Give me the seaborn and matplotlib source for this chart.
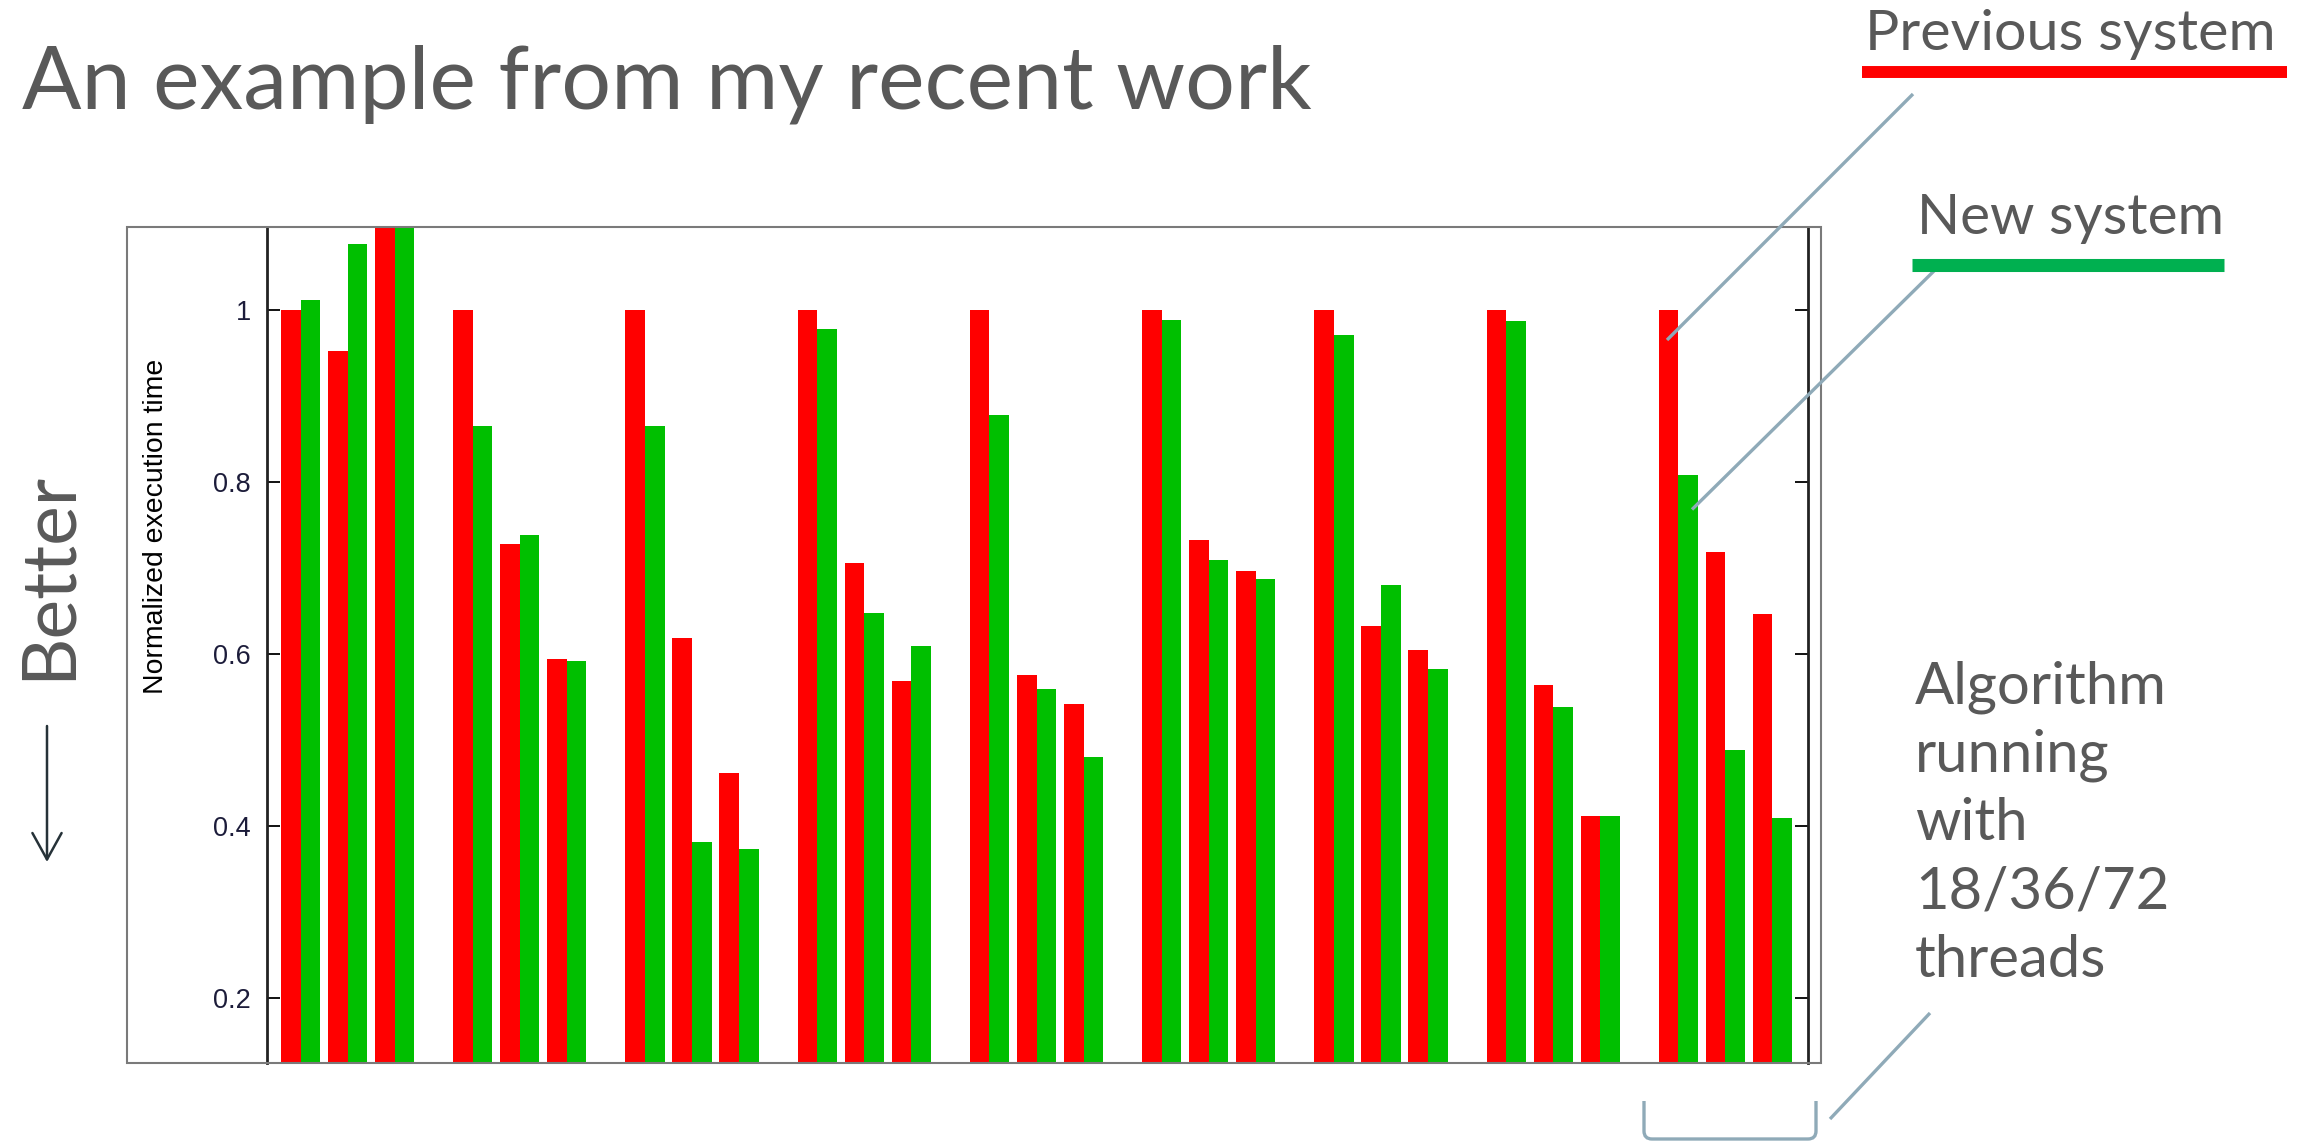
import matplotlib
matplotlib.use("Agg")
import matplotlib.pyplot as plt
from matplotlib.path import Path
from matplotlib.patches import PathPatch, Rectangle, FancyArrowPatch
import pandas as pd
import seaborn as sns

# normalized execution time, 9 benchmarks x 18/36/72 threads
threads = ["18", "36", "72"]
benchmarks = ["b1", "b2", "b3", "b4", "b5", "b6", "b7", "b8", "b9"]
prev_system = [
    [1.000, 0.952, 1.150],  # 72 threads runs off the top of the plot
    [1.000, 0.728, 0.594],
    [1.000, 0.619, 0.462],
    [1.000, 0.706, 0.569],
    [1.000, 0.576, 0.542],
    [1.000, 0.733, 0.697],
    [1.000, 0.632, 0.605],
    [1.000, 0.564, 0.412],
    [1.000, 0.718, 0.646],
]
new_system = [
    [1.011, 1.076, 1.170],
    [0.865, 0.738, 0.592],
    [0.865, 0.382, 0.373],
    [0.978, 0.648, 0.609],
    [0.878, 0.559, 0.480],
    [0.988, 0.709, 0.687],
    [0.970, 0.680, 0.583],
    [0.987, 0.539, 0.412],
    [0.808, 0.489, 0.409],
]
yticks = [0.2, 0.4, 0.6, 0.8, 1.0]
ytick_labels = ["0.2", "0.4", "0.6", "0.8", "1"]
algo_lines = ["Algorithm", "running", "with", "18/36/72", "threads"]

W, H = 2308, 1141
GROUP_PITCH = 3.664   # spacing of benchmark groups, in thread-slot units
GREY = "#595959"
CALLOUT = "#8faab8"

rows = []
for i, b in enumerate(benchmarks):
    for j, t in enumerate(threads):
        pos = i * GROUP_PITCH + j
        rows.append({"pos": pos, "system": "Previous system", "value": prev_system[i][j]})
        rows.append({"pos": pos, "system": "New system", "value": new_system[i][j]})
df = pd.DataFrame(rows)

sns.set_style("ticks")
plt.rcParams["font.family"] = ["Lato", "DejaVu Sans"]

fig = plt.figure(figsize=(W / 100, H / 100), dpi=100)
ax = fig.add_axes([266.8 / W, 1 - 1063 / H, (1807.8 - 266.8) / W, (1063 - 227) / H])

sns.barplot(data=df, x="pos", y="value", hue="system",
            hue_order=["Previous system", "New system"],
            palette={"Previous system": "#ff0000", "New system": "#00bf00"},
            native_scale=True, width=0.834, saturation=1, errorbar=None,
            linewidth=0, legend=False, ax=ax)

ax.set_xlim(-0.719, 8 * GROUP_PITCH + 2 + 0.753)
ax.set_ylim(0.125, 1.096)
ax.set_xticks([])
ax.set_xlabel("")
ax.set_ylabel("")
ax.set_yticks(yticks, ytick_labels)
ax.tick_params(axis="y", direction="in", length=9.5, width=1.4, pad=11.5,
               labelsize=19.5, labelcolor="#1c1c3a", color="#111111", right=True)
for lab in ax.get_yticklabels():
    lab.set_family("Liberation Sans")
ax.spines["top"].set_visible(False)
ax.spines["bottom"].set_visible(False)
for side in ["left", "right"]:
    ax.spines[side].set_linewidth(2)
    ax.spines[side].set_color("#222222")

# overlay in pixel coordinates for the slide annotations
ov = fig.add_axes([0, 0, 1, 1])
ov.set_xlim(0, W)
ov.set_ylim(H, 0)
ov.axis("off")
ov.set_zorder(5)
renderer = fig.canvas.get_renderer()


def fit(t, size_px, vertical=False):
    bb = t.get_window_extent(renderer)
    cur = bb.height if vertical else bb.width
    t.set_fontsize(t.get_fontsize() * size_px / cur)


ov.add_patch(Rectangle((127, 227), 1821 - 127, 1063 - 227, fill=False,
                       ec="#7a7a7a", lw=1.5))

title = ov.text(22, 108, "An example from my recent work", fontsize=60,
                color=GREY, ha="left", va="baseline")
fit(title, 1291)

ylab = ov.text(163, 526, "Normalized execution time", rotation=90,
               rotation_mode="anchor", ha="center", va="baseline",
               fontsize=20, color="black", family="Liberation Sans")
fit(ylab, 334, vertical=True)

better = ov.text(70, 575, "Better", rotation=90, rotation_mode="anchor",
                 ha="center", va="baseline", fontsize=60, color=GREY)
fit(better, 209, vertical=True)
ov.add_patch(FancyArrowPatch((47, 726), (47, 862),
                             arrowstyle="->,head_length=19,head_width=10.5",
                             mutation_scale=1, lw=1.8, color="#263238",
                             shrinkA=0, shrinkB=0))

# legend-like labels with underlines
prev_t = ov.text(1865, 50, "Previous system", fontsize=40, color=GREY,
                 ha="left", va="baseline")
fit(prev_t, 410)
new_t = ov.text(1917, 234, "New system", fontsize=40, color=GREY,
                ha="left", va="baseline")
fit(new_t, 307)

ov.plot([1913, 1667], [94, 340], color=CALLOUT, lw=2.4, solid_capstyle="butt")
ov.plot([1937, 1692], [268, 509.5], color=CALLOUT, lw=2.4, solid_capstyle="butt")
ov.plot([1862, 2287], [72, 72], color="#ff0000", lw=8.6, solid_capstyle="butt")
ov.plot([1912, 2224], [264.5, 264.5], color="#00b050", lw=9.4, solid_capstyle="butt")

algo = ov.text(1915, 703, algo_lines[0], fontsize=40, color=GREY,
               ha="left", va="baseline")
fit(algo, 252)
for k, line in enumerate(algo_lines[1:], start=1):
    ov.text(1915, 703 + 68.5 * k, line, fontsize=algo.get_fontsize(),
            color=GREY, ha="left", va="baseline")

# bracket under the last group and its callout line
verts = [(1644, 1101), (1644, 1131), (1644, 1139), (1652, 1139),
         (1808, 1139), (1816, 1139), (1816, 1131), (1816, 1101)]
codes = [Path.MOVETO, Path.LINETO, Path.CURVE3, Path.CURVE3,
         Path.LINETO, Path.CURVE3, Path.CURVE3, Path.LINETO]
ov.add_patch(PathPatch(Path(verts, codes), fill=False, ec=CALLOUT, lw=2.4))
ov.plot([1830, 1930], [1119, 1013], color=CALLOUT, lw=2.4, solid_capstyle="butt")

fig.savefig("out.png", dpi=100, facecolor="white")
